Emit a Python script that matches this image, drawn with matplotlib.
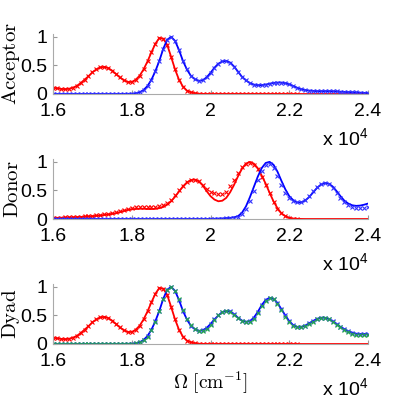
import numpy as np
import matplotlib
matplotlib.use('Agg')
import matplotlib.pyplot as plt

plt.rcParams['font.family'] = ['Liberation Sans', 'DejaVu Sans']

# wavenumber grid, cm^-1 (1.6 .. 2.4 x 10^4, step 100)
wn = np.linspace(16000, 24000, 81)
n_red_pts = 63   # red markers stop near 2.22e4

acc_red = [0.11, 0.10, 0.09, 0.085, 0.09, 0.11, 0.14, 0.19, 0.25, 0.31,
           0.38, 0.43, 0.465, 0.475, 0.455, 0.41, 0.35, 0.29, 0.24, 0.21,
           0.21, 0.25, 0.32, 0.43, 0.57, 0.73, 0.88, 0.98, 0.97, 0.86,
           0.65, 0.43, 0.25, 0.13, 0.06, 0.03, 0.012, 0.005, 0.002, 0.0,
           0, 0, 0, 0, 0, 0, 0, 0, 0, 0,
           0, 0, 0, 0, 0, 0, 0, 0, 0, 0,
           0, 0, 0, 0, 0, 0, 0, 0, 0, 0,
           0, 0, 0, 0, 0, 0, 0, 0, 0, 0, 0]
acc_blue = [0, 0, 0, 0, 0, 0, 0, 0, 0, 0,
            0, 0, 0, 0, 0, 0, 0, 0.001, 0.002, 0.003,
            0.005, 0.01, 0.03, 0.07, 0.14, 0.25, 0.40, 0.58, 0.79, 0.95,
            1.0, 0.93, 0.77, 0.58, 0.43, 0.32, 0.26, 0.23, 0.24, 0.29,
            0.37, 0.46, 0.53, 0.57, 0.58, 0.55, 0.48, 0.39, 0.30, 0.24,
            0.19, 0.165, 0.155, 0.155, 0.165, 0.18, 0.195, 0.20, 0.20, 0.19,
            0.17, 0.14, 0.11, 0.085, 0.07, 0.06, 0.055, 0.05, 0.05, 0.05,
            0.05, 0.048, 0.045, 0.04, 0.037, 0.033, 0.03, 0.027, 0.024, 0.02, 0.018]

don_red = [0.02, 0.02, 0.022, 0.025, 0.028, 0.03, 0.033, 0.036, 0.04, 0.045,
           0.05, 0.055, 0.062, 0.07, 0.08, 0.09, 0.10, 0.12, 0.14, 0.16,
           0.17, 0.175, 0.18, 0.18, 0.175, 0.175, 0.178, 0.19, 0.21, 0.25,
           0.31, 0.39, 0.48, 0.57, 0.64, 0.68, 0.69, 0.66, 0.59, 0.49,
           0.40, 0.34, 0.31, 0.32, 0.37, 0.47, 0.60, 0.75, 0.88, 0.97,
           1.0, 0.97, 0.89, 0.76, 0.62, 0.46, 0.31, 0.19, 0.10, 0.05,
           0.02, 0.008, 0.003, 0.001, 0, 0, 0, 0, 0, 0,
           0, 0, 0, 0, 0, 0, 0, 0, 0, 0, 0]
don_red_pts = [0.02, 0.022, 0.024, 0.027, 0.03, 0.033, 0.036, 0.04, 0.045, 0.05,
               0.056, 0.063, 0.071, 0.08, 0.09, 0.10, 0.115, 0.135, 0.16, 0.18,
               0.195, 0.205, 0.21, 0.21, 0.21, 0.21, 0.215, 0.225, 0.245, 0.28,
               0.34, 0.42, 0.50, 0.58, 0.65, 0.69, 0.69, 0.66, 0.60, 0.53,
               0.48, 0.45, 0.43, 0.44, 0.48, 0.57, 0.69, 0.81, 0.91, 0.97,
               0.98, 0.95, 0.87, 0.74, 0.60, 0.45, 0.30, 0.18, 0.10, 0.05,
               0.02, 0.008, 0.003]
don_blue = [0, 0, 0, 0, 0, 0, 0, 0, 0, 0,
            0, 0, 0, 0, 0, 0, 0, 0, 0, 0,
            0, 0, 0, 0, 0, 0, 0, 0, 0, 0,
            0, 0, 0, 0, 0, 0, 0, 0, 0, 0,
            0.002, 0.004, 0.007, 0.01, 0.015, 0.02, 0.03, 0.05, 0.11, 0.22,
            0.38, 0.56, 0.74, 0.89, 0.98, 1.0, 0.95, 0.83, 0.67, 0.52,
            0.40, 0.33, 0.29, 0.29, 0.32, 0.38, 0.46, 0.54, 0.60, 0.63,
            0.62, 0.57, 0.49, 0.40, 0.32, 0.27, 0.24, 0.23, 0.235, 0.25, 0.27]
don_blue_pts = [0, 0, 0, 0, 0, 0, 0, 0, 0, 0,
                0, 0, 0, 0, 0, 0, 0, 0, 0, 0,
                0, 0, 0, 0, 0, 0, 0, 0, 0, 0,
                0, 0, 0, 0, 0, 0, 0, 0, 0, 0,
                0.001, 0.002, 0.004, 0.007, 0.01, 0.015, 0.02, 0.04, 0.08, 0.17,
                0.31, 0.49, 0.68, 0.84, 0.95, 0.97, 0.90, 0.76, 0.60, 0.46,
                0.37, 0.31, 0.29, 0.30, 0.34, 0.41, 0.49, 0.56, 0.61, 0.63,
                0.61, 0.55, 0.46, 0.37, 0.29, 0.24, 0.21, 0.20, 0.20, 0.20, 0.21]

dyad_red = acc_red
dyad_blue = [0, 0, 0, 0, 0, 0, 0, 0, 0, 0,
             0, 0, 0, 0, 0, 0, 0, 0.001, 0.002, 0.003,
             0.005, 0.01, 0.03, 0.07, 0.14, 0.25, 0.40, 0.58, 0.79, 0.95,
             1.0, 0.93, 0.77, 0.58, 0.43, 0.32, 0.26, 0.23, 0.24, 0.28,
             0.35, 0.43, 0.50, 0.56, 0.58, 0.57, 0.52, 0.46, 0.41, 0.39,
             0.40, 0.46, 0.56, 0.68, 0.77, 0.81, 0.79, 0.72, 0.61, 0.50,
             0.40, 0.33, 0.30, 0.30, 0.32, 0.36, 0.40, 0.44, 0.46, 0.46,
             0.44, 0.40, 0.35, 0.30, 0.26, 0.22, 0.20, 0.18, 0.175, 0.175, 0.18]
dyad_sum = [0, 0, 0, 0, 0, 0, 0, 0, 0, 0,
            0, 0, 0, 0, 0, 0, 0, 0.001, 0.002, 0.003,
            0.005, 0.01, 0.03, 0.07, 0.13, 0.24, 0.39, 0.57, 0.78, 0.94,
            0.99, 0.93, 0.78, 0.59, 0.44, 0.33, 0.26, 0.23, 0.23, 0.27,
            0.34, 0.42, 0.50, 0.56, 0.58, 0.56, 0.51, 0.45, 0.40, 0.38,
            0.39, 0.44, 0.54, 0.66, 0.76, 0.80, 0.78, 0.70, 0.59, 0.48,
            0.39, 0.32, 0.29, 0.29, 0.31, 0.35, 0.39, 0.43, 0.45, 0.46,
            0.44, 0.39, 0.34, 0.29, 0.25, 0.21, 0.18, 0.165, 0.16, 0.155, 0.15]

names = ['Acceptor', 'Donor', 'Dyad']
xticks = [16000, 18000, 20000, 22000, 24000]
xticklabels = ['1.6', '1.8', '2', '2.2', '2.4']
yticks = [0, 0.5, 1]
yticklabels = ['0', '0.5', '1']

fig = plt.figure(figsize=(4.07, 4.18), dpi=100)
W, H = 407.0, 418.0
bottoms = [94, 219, 344]   # pixel row of y=0 for each panel
axes = []
for b in bottoms:
    ax = fig.add_axes([53 / W, 1 - b / H, 315 / W, 60 / H])
    axes.append(ax)

panels = [
    (acc_red, acc_red, acc_blue, acc_blue, None),
    (don_red, don_red_pts, don_blue, don_blue_pts, None),
    (dyad_red, dyad_red, dyad_blue, dyad_blue, dyad_sum),
]

for ax, name, (rl, rp, bl, bp, gp) in zip(axes, names, panels):
    ax.plot(wn, rl, color='red', lw=1.3)
    ax.plot(wn[:n_red_pts], rp[:n_red_pts], 'x', color='red', ms=2.5, mew=0.8)
    ax.plot(wn, bl, color='blue', lw=1.3)
    ax.plot(wn, bp, 'x', color='#3333ff', ms=2.5, mew=0.8)
    if gp is not None:
        ax.plot(wn, gp, 'x', color='#22aa44', ms=2.5, mew=0.8)
    ax.set_xlim(16000, 24000)
    ax.set_ylim(0, 1.05)
    ax.set_xticks(xticks)
    ax.set_xticklabels(xticklabels)
    ax.set_yticks(yticks)
    ax.set_yticklabels(yticklabels)
    ax.tick_params(direction='in', length=3, color='#999999', labelsize=14, pad=4)
    ax.tick_params(axis='x', pad=6.5)
    for s in ['top', 'right']:
        ax.spines[s].set_visible(False)
    for s in ['left', 'bottom']:
        ax.spines[s].set_color('#aaaaaa')
        ax.spines[s].set_linewidth(0.8)
    ax.set_ylabel(r'$\mathrm{%s}$' % name, math_fontfamily='cm', fontsize=15)
    ax.yaxis.set_label_coords(-0.098, 0.5)
    ax.annotate(r'x 10$^{\mathregular{4}}$', xy=(1, 0), xycoords='axes fraction',
                xytext=(0, -45), textcoords='offset pixels', ha='right', va='center',
                fontsize=14)

axes[2].set_xlabel(r'$\Omega\ [\mathrm{cm}^{-1}]$', math_fontfamily='cm', fontsize=14, labelpad=0)

fig.savefig('out.png', dpi=100)
